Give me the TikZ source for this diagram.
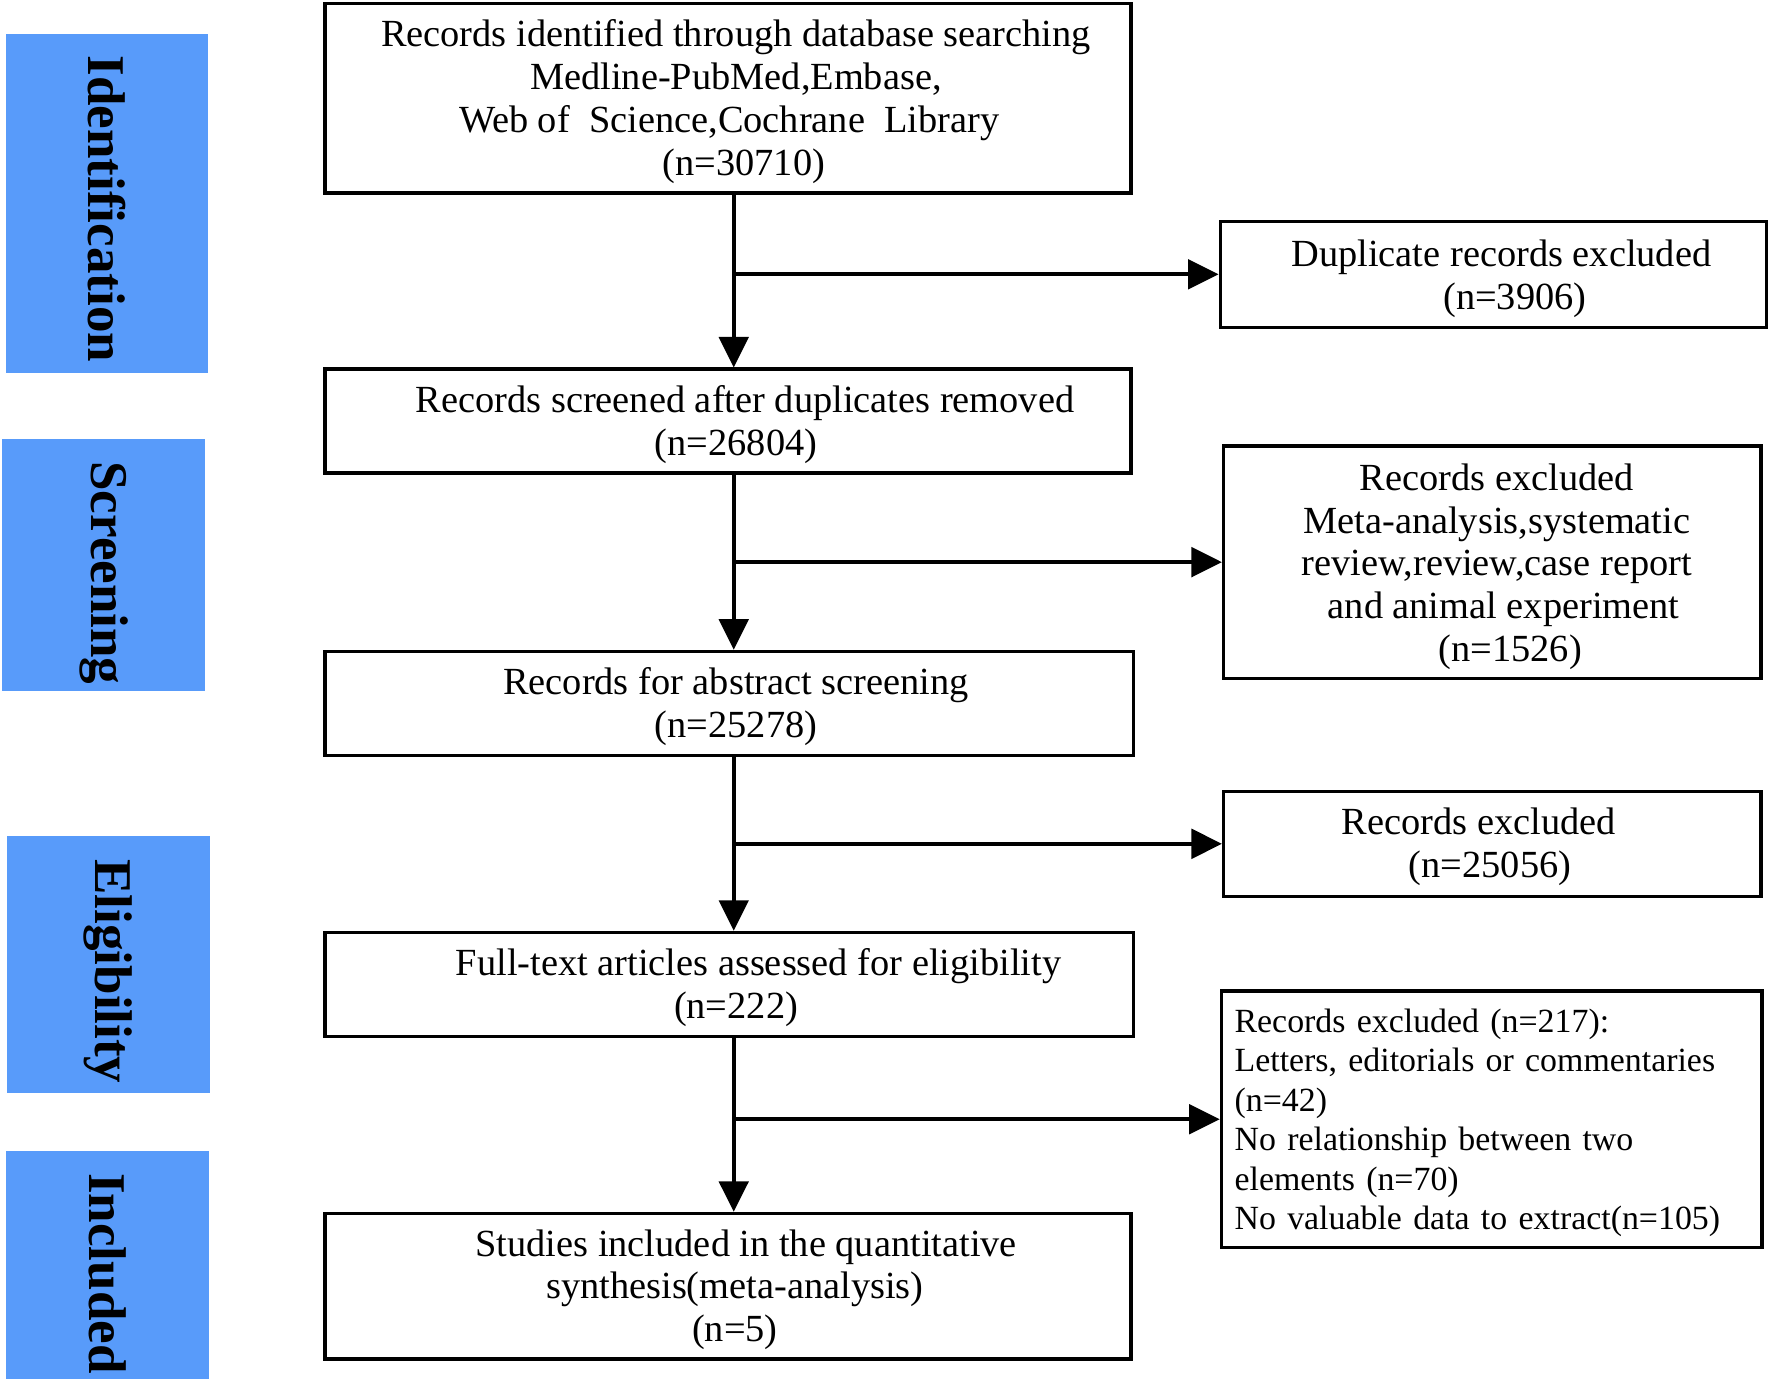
\documentclass[tikz,border=0pt]{standalone}
\usepackage{fontspec}
\setmainfont{Liberation Serif}
\usetikzlibrary{arrows.meta}
\definecolor{phaseblue}{RGB}{88,155,250}
\begin{document}
\begin{tikzpicture}[x=1pt,y=-1pt,
  box/.style={draw, line width=3pt, inner sep=0pt},
  txt/.style={align=center, inner sep=0pt, font=\fontsize{34}{38}\selectfont},
  phase/.style={fill=phaseblue, inner sep=0pt},
  phasetxt/.style={rotate=-90, inner sep=0pt, font=\fontsize{47}{50}\selectfont\bfseries},
  arr/.style={line width=3.5pt, -{Triangle[length=27pt,width=26pt]}}]
\useasboundingbox (0,0) rectangle (1568,1224);
% phase labels
\node[phase, minimum width=179pt, minimum height=300pt] (p1) at (94.5,180) {};
\node[phase, minimum width=180pt, minimum height=223pt] (p2) at (92,500.5) {};
\node[phase, minimum width=180pt, minimum height=227pt] (p3) at (96,854.5) {};
\node[phase, minimum width=180pt, minimum height=202pt] (p4) at (95,1121) {};
\node[phasetxt] (p1t) at ([yshift=-5pt]p1.center) {Identification};
\node[phasetxt] (p2t) at ([yshift=-7pt]p2.center) {Screening};
\node[phasetxt] (p3t) at ([yshift=-6pt]p3.center) {Eligibility};
\node[phasetxt] (p4t) at ([yshift=-7pt]p4.center) {Included};
% main column
\node[box, minimum width=714pt, minimum height=168pt] (b1) at (645,87) {};
\node[box, minimum width=714pt, minimum height=92pt] (b2) at (645,373) {};
\node[box, minimum width=716pt, minimum height=92pt] (b3) at (646,623) {};
\node[box, minimum width=716pt, minimum height=92pt] (b4) at (646,872) {};
\node[box, minimum width=714pt, minimum height=129pt] (b5) at (645,1139.5) {};
\node[txt] (b1t) at ([xshift=7pt,yshift=-3pt]b1.center)
  {Records identified through database searching\\Medline-PubMed,Embase,\\\hspace*{-12pt}Web of\ \ Science,Cochrane\ \ Library\\\hspace*{14pt}(n=30710)};
\node[txt] (b2t) at ([xshift=7pt,yshift=-3pt]b2.center)
  {\hspace*{16pt}Records screened after duplicates removed\\(n=26804)};
\node[txt] (b3t) at ([xshift=6pt,yshift=-3pt]b3.center)
  {Records for abstract screening\\(n=25278)};
\node[txt] (b4t) at ([xshift=6pt,yshift=-3pt]b4.center)
  {\hspace*{40pt}Full-text articles assessed for eligibility\\(n=222)};
\node[txt] (b5t) at ([xshift=6pt,yshift=-3pt]b5.center)
  {\hspace*{20pt}Studies included in the quantitative\\synthesis(meta-analysis)\\(n=5)};
% right column
\node[box, minimum width=484pt, minimum height=94pt] (r1) at (1323,243) {};
\node[box, minimum width=476pt, minimum height=206pt] (r2) at (1322,498) {};
\node[box, minimum width=476pt, minimum height=93pt] (r3) at (1322,747.5) {};
\node[box, minimum width=479pt, minimum height=227pt] (r4) at (1321.5,991.5) {};
\node[txt] (r1t) at ([xshift=7pt,yshift=-4pt]r1.center)
  {Duplicate records excluded\\\hspace*{24pt}(n=3906)};
\node[txt] (r2t) at ([xshift=4pt,yshift=-4pt]r2.center)
  {Records excluded\\Meta-analysis,systematic\\review,review,case report\\\hspace*{12pt}and animal experiment\\\hspace*{24pt}(n=1526)};
\node[txt] (r3t) at ([xshift=-2pt,yshift=-3pt]r3.center)
  {Records excluded\hspace*{20pt}\\(n=25056)};
\node[align=left, text width=453pt, inner sep=0pt,
  font=\fontsize{30}{35}\selectfont, anchor=west] (r4t) at ([xshift=13pt,yshift=-3pt]r4.west)
  {Records excluded (n=217):\\Letters, editorials or commentaries\\(n=42)\\No relationship between two\\elements (n=70)\\No valuable data to extract(n=105)};
% connectors
\coordinate (col) at (650,0);
\draw[arr] (b1.south -| col) -- (b2.north -| col);
\draw[arr] (b2.south -| col) -- (b3.north -| col);
\draw[arr] (b3.south -| col) -- (b4.north -| col);
\draw[arr] (b4.south -| col) -- (b5.north -| col);
\draw[arr] (r1.west -| col) -- (r1.west);
\draw[arr] (r2.west -| col) -- (r2.west);
\draw[arr] (r3.west -| col) -- (r3.west);
\draw[arr] (r4.west -| col) -- (r4.west);
\end{tikzpicture}
\end{document}
